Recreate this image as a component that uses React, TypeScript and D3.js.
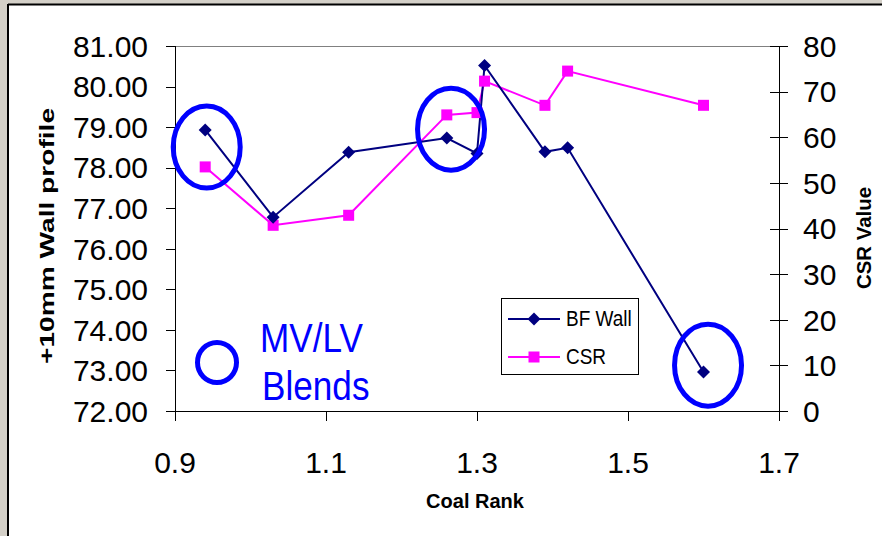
import React from "react";
import * as d3 from "d3";

const coalRank = [0.94, 1.03, 1.13, 1.26, 1.3, 1.31, 1.39, 1.42, 1.6];
const bfWall = [78.93, 76.78, 78.38, 78.73, 78.35, 80.52, 78.39, 78.49, 72.96];
const csr = [53.5, 40.7, 42.9, 64.9, 65.4, 72.3, 67.0, 74.5, 67.0];
const xTicks = [0.9, 1.1, 1.3, 1.5, 1.7];
const yLeftTicks = [72, 73, 74, 75, 76, 77, 78, 79, 80, 81];
const yRightTicks = [0, 10, 20, 30, 40, 50, 60, 70, 80];
const seriesNames = ["BF Wall", "CSR"];
// highlighted blends (x: coal rank, y: wall profile)
const blendCircles = [
  { x: 0.942, y: 78.51 },
  { x: 1.2656, y: 78.95 },
  { x: 1.606, y: 73.13 },
];
const blendLabel = ["MV/LV", "Blends"];

const W = 882;
const H = 536;
const L = 175, R = 779, T = 46, B = 411;
const FONT = "'Liberation Sans', Arial, sans-serif";
const NAVY = "#000080";
const MAG = "#ff00ff";
const BLUE = "#0000ff";

export default function App() {
  const x = d3.scaleLinear().domain([0.9, 1.7]).range([L, R]);
  const yL = d3.scaleLinear().domain([72, 81]).range([B, T]);
  const yR = d3.scaleLinear().domain([0, 80]).range([B, T]);

  const bfPts: [number, number][] = coalRank.map((r, i) => [x(r), yL(bfWall[i])]);
  const csrPts: [number, number][] = coalRank.map((r, i) => [x(r), yR(csr[i])]);
  const line = d3.line();

  const diamond = (cx: number, cy: number, key: string | number) => (
    <path key={key} d={`M${cx},${cy - 6.5}L${cx + 6.5},${cy}L${cx},${cy + 6.5}L${cx - 6.5},${cy}Z`} fill={NAVY} />
  );
  const square = (cx: number, cy: number, key: string | number) => (
    <rect key={key} x={cx - 5.5} y={cy - 5.5} width={11} height={11} fill={MAG} />
  );

  return (
    <svg width={W} height={H} style={{ position: "absolute", left: 0, top: 0 }} fontFamily={FONT}>
      <rect x={0} y={0} width={W} height={H} fill="#d4d0c8" />
      <rect x={8} y={4} width={W} height={H} fill="#ffffff" />
      <line x1={8} y1={4.5} x2={W} y2={4.5} stroke="#000" strokeWidth={2} />
      <line x1={8} y1={4} x2={8} y2={H} stroke="#000" strokeWidth={2} />

      {/* plot border top */}
      <line x1={L} y1={T + 0.5} x2={R} y2={T + 0.5} stroke="#808080" strokeWidth={1} />

      {/* left axis */}
      <line x1={L + 0.5} y1={T} x2={L + 0.5} y2={B} stroke="#000" />
      {yLeftTicks.map((t) => (
        <g key={"yl" + t}>
          <line x1={L - 9} x2={L} y1={Math.round(yL(t)) + 0.5} y2={Math.round(yL(t)) + 0.5} stroke="#000" />
          <text x={148} y={yL(t)} dy="0.36em" textAnchor="end" fontSize={30}>
            {t.toFixed(2)}
          </text>
        </g>
      ))}

      {/* right axis */}
      <line x1={R + 0.5} y1={T} x2={R + 0.5} y2={B + 10} stroke="#000" />
      {yRightTicks.map((t) => (
        <g key={"yr" + t}>
          <line x1={R - 9} x2={R + 9} y1={Math.round(yR(t)) + 0.5} y2={Math.round(yR(t)) + 0.5} stroke="#000" />
          <text x={803} y={yR(t)} dy="0.36em" textAnchor="start" fontSize={30}>
            {t}
          </text>
        </g>
      ))}

      {/* x axis */}
      <line x1={L - 9} x2={R + 9} y1={B + 0.5} y2={B + 0.5} stroke="#000" />
      {xTicks.map((t) => (
        <g key={"x" + t}>
          <line x1={Math.round(x(t)) + 0.5} x2={Math.round(x(t)) + 0.5} y1={B} y2={B + 10} stroke="#000" />
          <text x={x(t)} y={473} textAnchor="middle" fontSize={30}>
            {t.toFixed(1)}
          </text>
        </g>
      ))}

      {/* axis titles */}
      <text x={475} y={508} textAnchor="middle" fontSize={20} fontWeight="bold">
        Coal Rank
      </text>
      <g transform={`translate(46,236) rotate(-90) scale(1.34,1)`}>
        <text x={0} y={0} dy="0.36em" textAnchor="middle" fontSize={21} fontWeight="bold">
          +10mm Wall profile
        </text>
      </g>
      <g transform={`translate(864,238) rotate(-90) scale(1.02,1)`}>
        <text x={0} y={0} dy="0.36em" textAnchor="middle" fontSize={20} fontWeight="bold">
          CSR Value
        </text>
      </g>

      {/* series */}
      <path d={line(csrPts) || ""} fill="none" stroke={MAG} strokeWidth={2} />
      <path d={line(bfPts) || ""} fill="none" stroke={NAVY} strokeWidth={2} />
      {csrPts.map((p, i) => square(p[0], p[1], "s" + i))}
      {bfPts.map((p, i) => diamond(p[0], p[1], "d" + i))}

      {/* blend annotations */}
      {blendCircles.map((c, i) => (
        <ellipse key={"e" + i} cx={x(c.x)} cy={yL(c.y)} rx={33.5} ry={41} fill="none" stroke={BLUE} strokeWidth={5} />
      ))}
      <ellipse cx={217} cy={362.5} rx={19.5} ry={20} fill="none" stroke={BLUE} strokeWidth={5} />
      <g transform="translate(260,352) scale(0.95,1.08)">
        <text x={0} y={0} fontSize={37} fill={BLUE}>
          {blendLabel[0]}
        </text>
      </g>
      <g transform="translate(262,400) scale(0.95,1.08)">
        <text x={0} y={0} fontSize={37} fill={BLUE}>
          {blendLabel[1]}
        </text>
      </g>

      {/* legend */}
      <rect x={501.5} y={298.5} width={137} height={76} fill="#fff" stroke="#000" />
      <line x1={508} x2={560} y1={319} y2={319} stroke={NAVY} strokeWidth={2} />
      {diamond(534, 319, "ld")}
      <line x1={508} x2={560} y1={357} y2={357} stroke={MAG} strokeWidth={2} />
      {square(534, 357, "ls")}
      <g transform="translate(566,326) scale(1,1.2)">
        <text x={0} y={0} fontSize={19}>{seriesNames[0]}</text>
      </g>
      <g transform="translate(566,364) scale(1,1.2)">
        <text x={0} y={0} fontSize={19}>{seriesNames[1]}</text>
      </g>
    </svg>
  );
}
